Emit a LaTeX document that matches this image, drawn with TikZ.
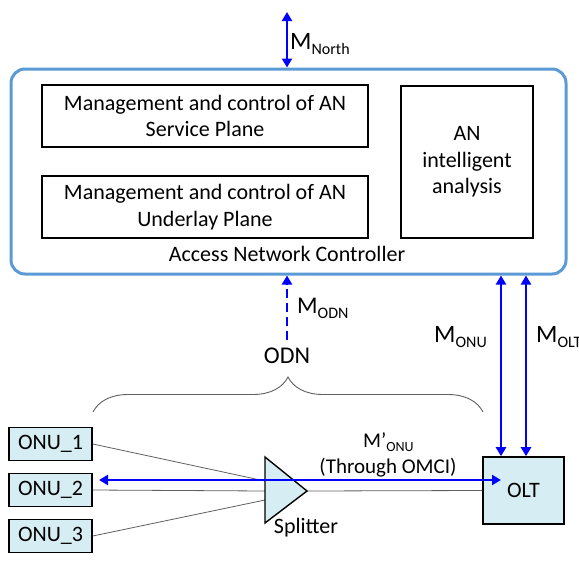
\documentclass[tikz,border=0pt]{standalone}
\usepackage{fontspec}
\setmainfont{Carlito}
\usetikzlibrary{arrows.meta,decorations.pathreplacing}
\definecolor{ctrlblue}{RGB}{91,155,213}
\definecolor{nodefill}{RGB}{214,238,243}
\definecolor{linkgray}{RGB}{95,95,95}
% management interface label: big letter with a lowered subscript
\newcommand\mgmtlabel[3]{{\fontsize{#1}{#1}\selectfont M}\raisebox{-5pt}{\fontsize{16}{16}\selectfont #3}}
\begin{document}
\begin{tikzpicture}[x=1pt,y=-1pt,
  plane/.style={draw=black,line width=1.6pt,fill=white,align=center,inner sep=0pt,
    font=\fontsize{22}{26.5}\selectfont},
  netbox/.style={draw=black,line width=1.6pt,fill=nodefill,inner sep=0pt,
    font=\fontsize{22}{26}\selectfont},
  mgmt/.style={draw=blue,line width=2.2pt,
    {Triangle[length=9pt,width=10pt]}-{Triangle[length=9pt,width=10pt]}},
  mgmtdash/.style={draw=blue,line width=2.2pt,dash pattern=on 9pt off 5pt,
    -{Triangle[length=9pt,width=10pt]}},
  fiber/.style={draw=linkgray,line width=0.8pt},
  lbl/.style={inner sep=0pt,font=\fontsize{22}{26}\selectfont}
]
\useasboundingbox (0,0) rectangle (579,568);

% controller and its function blocks
\node[draw=ctrlblue,line width=3pt,rounded corners=14pt,
      minimum width=555pt,minimum height=205pt] (anc) at (288.5,171.5) {};
\node[plane,minimum width=326pt,minimum height=62pt] (svc) at (205,116)
  {Management and control of AN\\Service Plane};
\node[plane,minimum width=326pt,minimum height=62pt] (und) at (205,207)
  {Management and control of AN\\Underlay Plane};
\node[plane,minimum width=132pt,minimum height=152pt] (ai) at (467,162)
  {AN\\intelligent\\analysis};
\node[lbl] (anctitle) at (287,254) {Access Network Controller};

% northbound interface
\coordinate (northend) at (287,12);
\draw[mgmt] (northend) -- (northend |- anc.north);
\node[lbl,anchor=base west] (mnorth) at (290,49) {\mgmtlabel{25}{}{North}};

% access network elements
\node[netbox,minimum width=83pt,minimum height=33pt] (onu1) at (50.5,444) {ONU\_1};
\node[netbox,minimum width=83pt,minimum height=33pt] (onu2) at (50.5,490) {ONU\_2};
\node[netbox,minimum width=83pt,minimum height=33pt] (onu3) at (50.5,536) {ONU\_3};
\node[netbox,minimum width=81pt,minimum height=67pt] (olt) at (523.5,490.5) {OLT};

% splitter corners
\coordinate (spltop) at (265,457);
\coordinate (splbot) at (265,523);
\coordinate (splapex) at (307,491);
\coordinate (splin1) at (265,481);
\coordinate (splin2) at (265,491);
\coordinate (splin3) at (265,500);

% fibre links
\draw[fiber] (onu1.east) -- (splin1);
\draw[fiber] (onu2.east) -- (splin2);
\draw[fiber] (onu3.east) -- (splin3);
\draw[fiber] (splapex) -- (olt.west);

\draw[line width=1.4pt,fill=nodefill] (spltop) -- (splapex) -- (splbot) -- cycle;
\node[lbl,anchor=base] (spllbl) at (306,533) {Splitter};

% ODN brace
\draw[linkgray,line width=0.9pt,decorate,decoration={brace,amplitude=35pt}]
  (93,412) -- (483,412);
\node[lbl,font=\fontsize{24}{28}\selectfont] (odn) at (287,356) {ODN};

% ODN management (dashed)
\coordinate (odnend) at (287,340);
\draw[mgmtdash] (odnend) -- (odnend |- anc.south);
\node[lbl,anchor=base west] (modn) at (297,313) {\mgmtlabel{24}{}{ODN}};

% ONU / OLT management
\coordinate (monux) at (501,0);
\coordinate (moltx) at (526,0);
\draw[mgmt] (monux |- anc.south) -- (monux |- olt.north);
\draw[mgmt] (moltx |- anc.south) -- (moltx |- olt.north);
\node[lbl,anchor=base west] (monu) at (434,342) {\mgmtlabel{25}{}{ONU}};
\node[lbl,anchor=base west] (molt) at (536,342) {\mgmtlabel{25}{}{OLT}};

% in-band ONU management through OMCI
\coordinate (omcil) at (99,480);
\coordinate (omcir) at (501,480);
\draw[mgmt] (omcil) -- (omcir);
\node[lbl,anchor=base west,font=\fontsize{21}{24}\selectfont] (mponu) at (363,447)
  {M’\raisebox{-4pt}{\fontsize{14}{14}\selectfont ONU}};
\node[lbl,anchor=base,font=\fontsize{21}{24}\selectfont] (omci) at (388,473) {(Through OMCI)};
\end{tikzpicture}
\end{document}
